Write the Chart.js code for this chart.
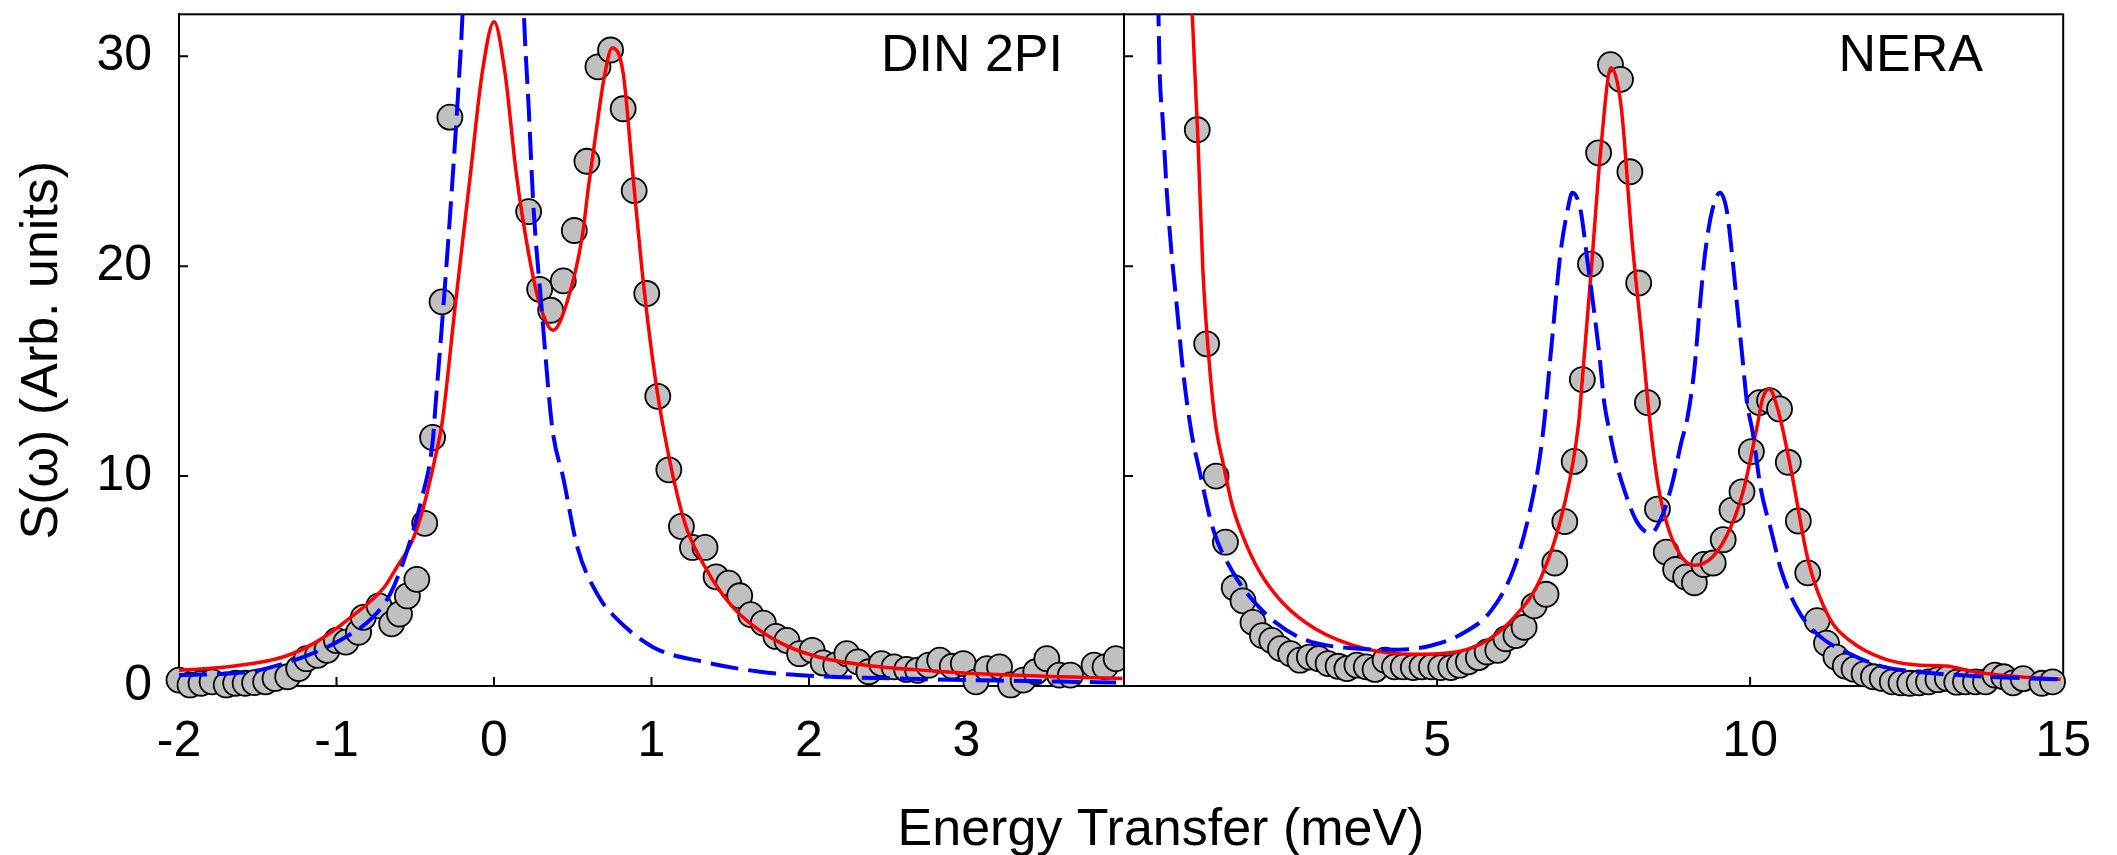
<!DOCTYPE html>
<html>
<head>
<meta charset="utf-8">
<script src="https://cdn.jsdelivr.net/npm/chart.js@4.4.1/dist/chart.umd.min.js"></script>
<style>
html,body{margin:0;padding:0;background:#fff;}
#wrap{position:relative;width:2117px;height:855px;background:#fff;}
#wrap canvas{position:absolute;left:0;top:0;}
</style>
</head>
<body>
<div id="wrap">
<canvas id="c1" width="2117" height="855"></canvas>
<canvas id="c2" width="2117" height="855"></canvas>
</div>
<script>
// ---------- tick labels ----------
const dinTickLabels = [-2, -1, 0, 1, 2, 3];
const neraTickLabels = [5, 10, 15];
const yTickLabels = [0, 10, 20, 30];

// ---------- DIN 2PI : measured points ----------
const dinX = [-2.00,-1.93,-1.86,-1.79,-1.70,-1.64,-1.58,-1.52,-1.45,-1.39,-1.31,-1.24,-1.19,-1.12,-1.06,-1.00,-0.94,-0.86,-0.83,-0.73,-0.65,-0.60,-0.55,-0.49,-0.44,-0.39,-0.33,-0.28,
  0.22,0.29,0.36,0.44,0.51,0.59,0.66,0.74,0.82,0.89,0.97,1.04,1.11,1.19,1.26,1.34,1.41,1.49,1.56,1.63,1.71,1.79,1.86,1.94,2.02,2.09,2.17,2.24,2.31,2.38,2.46,2.54,2.62,2.69,2.76,2.83,2.91,2.98,3.06,3.13,3.21,3.28,3.36,3.44,3.51,3.59,3.66,3.81,3.88,3.95];
const dinY = [0.28,0.05,0.13,0.20,0.05,0.13,0.13,0.16,0.20,0.36,0.44,0.83,1.30,1.46,1.70,2.17,2.09,2.56,3.27,3.82,2.96,3.43,4.29,5.08,7.75,11.84,18.3,27.1,
  22.6,18.9,17.9,19.3,21.7,25.0,29.5,30.3,27.5,23.6,18.7,13.8,10.3,7.6,6.6,6.6,5.2,4.9,4.3,3.4,3.0,2.36,2.17,1.54,1.70,1.10,0.99,1.54,1.15,0.68,1.07,0.91,0.79,0.75,0.99,1.23,0.94,1.07,0.20,0.83,0.91,0.05,0.28,0.68,1.30,0.52,0.52,0.99,0.91,1.30];

// DIN 2PI : fit (red solid)
const dinFitX = [-2.00,-1.66,-1.34,-1.13,-0.91,-0.70,-0.62,-0.52,-0.45,-0.37,-0.33,-0.245,-0.148,-0.075,0.00,0.07,0.14,0.22,0.29,0.375,0.46,0.56,0.60,0.65,0.70,0.75,0.82,0.88,0.94,1.01,1.08,1.21,1.33,1.45,1.57,1.81,2.06,2.42,2.79,3.27,3.99];
const dinFitY = [0.75,0.94,1.38,2.09,3.27,4.68,5.63,6.9,8.46,11.0,12.5,18.2,24.5,29.2,31.65,29.2,24.5,20.6,18.2,16.95,18.2,21.4,23.8,26.5,29.0,30.4,29.2,24.5,19.8,15.4,12.1,7.8,5.8,4.37,3.35,2.09,1.38,0.94,0.72,0.52,0.36];

// DIN 2PI : model (blue dashed)
const dinModelX = [-2.00,-1.55,-1.30,-1.13,-0.98,-0.77,-0.66,-0.56,-0.46,-0.39,-0.37,-0.32,-0.26,-0.22,-0.20,-0.10,0.00,0.10,0.19,0.22,0.25,0.30,0.37,0.44,0.53,0.67,0.77,1.01,1.33,1.69,2.06,2.54,3.27,3.95];
const dinModelY = [0.52,0.68,1.15,1.62,2.17,3.27,4.37,6.26,8.9,11.6,13.5,18.2,24.5,29.2,32.0,55,72,55,32.0,27.6,22.9,18.2,12.3,9.9,6.6,4.2,3.27,1.85,1.15,0.68,0.47,0.36,0.25,0.17];

// ---------- NERA : measured points ----------
const neraX = [1.17,1.32,1.47,1.62,1.76,1.90,2.06,2.21,2.36,2.50,2.66,2.81,2.96,3.11,3.26,3.42,3.56,3.72,3.87,4.01,4.17,4.32,4.46,4.62,4.76,4.91,5.06,5.22,5.36,5.50,5.66,5.80,5.97,6.10,6.26,6.39,6.55,6.74,6.88,7.04,7.19,7.32,7.45,7.58,7.77,7.93,8.08,8.22,8.36,8.52,8.66,8.81,8.97,9.11,9.26,9.41,9.57,9.71,9.87,10.02,10.15,10.31,10.47,10.61,10.77,10.92,11.07,11.22,11.37,11.52,11.66,11.82,11.97,12.11,12.27,12.41,12.55,12.70,12.85,13.00,13.15,13.30,13.44,13.60,13.76,13.91,14.05,14.20,14.36,14.66,14.83];
const neraY = [26.5,16.3,10.0,6.85,4.68,4.06,3.03,2.40,2.17,1.78,1.54,1.23,1.38,1.30,1.07,0.94,0.83,0.99,0.91,0.79,1.23,0.91,0.91,0.88,0.91,0.91,0.88,0.88,0.99,1.15,1.35,1.62,1.70,2.25,2.40,2.80,3.82,4.37,5.86,7.83,10.7,14.6,20.1,25.4,29.6,28.9,24.5,19.2,13.5,8.43,6.38,5.55,5.19,4.92,5.79,5.86,6.97,8.38,9.25,11.17,13.5,13.6,13.2,10.66,7.86,5.39,3.11,2.04,1.38,0.95,0.80,0.58,0.44,0.36,0.20,0.15,0.13,0.15,0.20,0.30,0.36,0.18,0.20,0.20,0.20,0.52,0.44,0.15,0.35,0.13,0.20];

// NERA : fit (red solid)
const neraFitX = [0.95,1.09,1.18,1.26,1.37,1.47,1.58,1.73,1.89,2.16,2.53,3.06,3.85,4.65,5.17,5.70,6.23,6.66,7.03,7.26,7.32,7.47,7.61,7.78,7.94,8.11,8.27,8.41,8.54,8.71,8.92,9.11,9.41,9.68,9.90,10.12,10.20,10.31,10.42,10.50,10.66,10.93,11.26,11.59,12.13,12.67,13.14,13.50,13.76,14.30,14.96];
const neraFitY = [40,32.0,26.1,19.8,15.1,12.3,10.66,8.6,7.2,5.47,3.98,2.72,1.78,1.51,1.57,2.0,3.27,5.16,8.6,12.5,14.6,20.1,25.4,29.45,27.6,21.35,16.6,12.3,9.4,7.36,6.1,5.75,6.18,7.5,9.4,12.5,13.7,14.15,13.4,12.5,10.2,5.94,3.27,2.17,1.3,1.0,0.95,0.72,0.6,0.44,0.32];

// NERA : model (blue dashed)
const neraModelX = [0.45,0.55,0.57,0.62,0.68,0.76,0.84,0.94,1.07,1.21,1.42,1.73,2.16,2.79,3.59,4.38,4.91,5.44,5.86,6.23,6.50,6.68,6.84,6.97,7.08,7.16,7.29,7.40,7.51,7.59,7.67,7.75,7.86,8.00,8.19,8.41,8.60,8.76,8.90,9.00,9.11,9.20,9.28,9.39,9.52,9.63,9.71,9.79,9.87,9.95,10.04,10.17,10.34,10.50,10.77,11.10,11.59,12.13,12.67,13.76,14.95];
const neraModelY = [40,32.0,29.2,26.9,23.7,20.6,18.2,15.1,12.2,10.2,7.5,5.47,3.74,2.33,1.81,1.73,1.93,2.56,3.58,5.63,8.6,11.76,16.6,20.6,22.6,23.5,22.7,20.3,17.8,15.85,13.5,12.2,10.66,9.25,7.83,7.28,8.15,9.7,11.6,12.8,15.1,18.2,20.6,22.6,23.5,22.6,20.6,18.2,15.85,13.5,12.1,9.4,7.36,5.47,3.58,2.4,1.54,0.91,0.68,0.44,0.32];

// ---------- helpers ----------
const zip = (xs, ys) => xs.map((x, i) => ({x: x, y: ys[i]}));

Chart.defaults.font.family = '"Liberation Sans", Arial, sans-serif';
Chart.defaults.color = '#000';

const framePlugin = {
  id: 'frame',
  beforeDatasetsDraw(chart) {
    const {ctx, chartArea: a, scales} = chart;
    ctx.save();
    ctx.strokeStyle = '#000';
    ctx.lineWidth = 2;
    ctx.strokeRect(a.left, a.top, a.right - a.left, a.bottom - a.top);
    const L = 9;
    ctx.beginPath();
    scales.x.ticks.forEach(t => {
      const p = scales.x.getPixelForValue(t.value);
      if (p > a.left + 2 && p < a.right - 2) { ctx.moveTo(p, a.bottom); ctx.lineTo(p, a.bottom - L); }
    });
    scales.y.ticks.forEach(t => {
      const p = scales.y.getPixelForValue(t.value);
      if (p > a.top + 2 && p < a.bottom - 2) { ctx.moveTo(a.left, p); ctx.lineTo(a.left + L, p); }
    });
    ctx.stroke();
    ctx.restore();
  },
  afterDraw(chart, args, opts) {
    const ctx = chart.ctx;
    ctx.save();
    ctx.fillStyle = '#000';
    ctx.textBaseline = 'alphabetic';
    (opts.texts || []).forEach(t => {
      ctx.font = t.font;
      ctx.textAlign = t.align;
      ctx.fillText(t.text, t.x, t.y);
    });
    ctx.restore();
  }
};

function lineSet(label, xs, ys, color, width, dash, order) {
  return {
    label: label, data: zip(xs, ys), showLine: true, borderColor: color, borderWidth: width,
    borderDash: dash, pointRadius: 0, pointHoverRadius: 0, fill: false,
    cubicInterpolationMode: 'monotone', clip: 0, order: order
  };
}
function pointSet(label, xs, ys, clip) {
  return {
    label: label, data: zip(xs, ys), showLine: false, pointRadius: 12.5, pointHoverRadius: 12.5,
    pointBackgroundColor: '#c0c0c0', pointBorderColor: '#000', pointBorderWidth: 1.8,
    clip: clip, order: 2
  };
}
const border = {display: true, color: '#000', width: 2};
const font50 = {size: 50};
function noPad(s) { s.paddingTop = 0; s.paddingBottom = 0; }

// ---------- left panel : DIN 2PI ----------
new Chart(document.getElementById('c1'), {
  type: 'scatter',
  data: {
    datasets: [
      lineSet('model', dinModelX, dinModelY, '#0000ff', 4, [28, 10], 0),
      lineSet('fit', dinFitX, dinFitY, '#ff0000', 3.5, [], 1),
      pointSet('data', dinX, dinY, {left: false, top: false, right: 0, bottom: false})
    ]
  },
  options: {
    responsive: false, animation: false, devicePixelRatio: 1,
    layout: {padding: {left: 0, top: 7, right: 993, bottom: 0}},
    plugins: {
      legend: {display: false}, tooltip: {enabled: false},
      frame: {texts: [
        {text: 'DIN 2PI', x: 1063, y: 71, align: 'right', font: '52px "Liberation Sans", Arial, sans-serif'},
        {text: 'Energy Transfer (meV)', x: 1161, y: 845, align: 'center', font: '52px "Liberation Sans", Arial, sans-serif'}
      ]}
    },
    scales: {
      x: {
        type: 'linear', min: -2, max: 4,
        afterFit(s) { s.height = 169; },
        grid: {display: false, drawTicks: false}, border: border,
        ticks: {stepSize: 1, autoSkip: false, maxRotation: 0, padding: 26, font: font50, color: '#000',
          callback: v => dinTickLabels.includes(v) ? String(v) : ''}
      },
      y: {
        type: 'linear', min: 0, max: 32,
        afterFit(s) { s.width = 179; noPad(s); },
        grid: {display: false, drawTicks: false}, border: border,
        ticks: {stepSize: 10, includeBounds: false, padding: 27, font: font50, color: '#000',
          callback: v => yTickLabels.includes(v) ? String(v) : ''},
        title: {display: true, text: 'S(ω) (Arb. units)', font: {size: 52}, color: '#000', padding: {top: 11, bottom: 0}}
      }
    }
  },
  plugins: [framePlugin]
});

// ---------- right panel : NERA ----------
new Chart(document.getElementById('c2'), {
  type: 'scatter',
  data: {
    datasets: [
      lineSet('model', neraModelX, neraModelY, '#0000ff', 4, [28, 10], 0),
      lineSet('fit', neraFitX, neraFitY, '#ff0000', 3.5, [], 1),
      pointSet('data', neraX, neraY, false)
    ]
  },
  options: {
    responsive: false, animation: false, devicePixelRatio: 1,
    layout: {padding: {left: 1124, top: 7, right: 48, bottom: 0}},
    plugins: {
      legend: {display: false}, tooltip: {enabled: false},
      frame: {texts: [
        {text: 'NERA', x: 1983, y: 71, align: 'right', font: '52px "Liberation Sans", Arial, sans-serif'}
      ]}
    },
    scales: {
      x: {
        type: 'linear', min: 0, max: 15,
        afterFit(s) { s.height = 169; },
        grid: {display: false, drawTicks: false}, border: border,
        ticks: {stepSize: 5, autoSkip: false, maxRotation: 0, padding: 26, font: font50, color: '#000',
          callback: v => neraTickLabels.includes(v) ? String(v) : ''}
      },
      y: {
        type: 'linear', min: 0, max: 32,
        afterFit(s) { s.width = 0; noPad(s); },
        grid: {display: false, drawTicks: false}, border: border,
        ticks: {display: false, stepSize: 10, includeBounds: false}
      }
    }
  },
  plugins: [framePlugin]
});
</script>
</body>
</html>
